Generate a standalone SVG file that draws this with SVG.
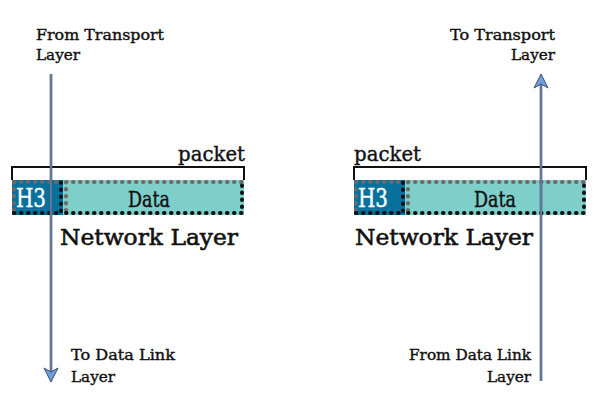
<svg xmlns="http://www.w3.org/2000/svg" width="600" height="400" viewBox="0 0 600 400">
<style>
text{font-family:"DejaVu Serif","Liberation Serif",serif;fill:#111;stroke:#111;stroke-width:0.4}
.lbl{font-size:15px}
.pk{font-size:20px}
.nl{font-size:23px;stroke-width:0.6}
.dt{font-size:22px}
.h3{font-size:26px;fill:#fff;stroke:#fff;stroke-width:0.4;font-family:"DejaVu Serif Condensed","DejaVu Serif",serif}
.br{fill:none;stroke:#111;stroke-width:2}
.hb{fill:#07719e}
.db{fill:#7ececa}
.dg{fill:none;stroke:#6a6a6a;stroke-width:4;stroke-linecap:round;stroke-dasharray:0.5 6.5}
.dk{fill:none;stroke:#111;stroke-width:4;stroke-linecap:round;stroke-dasharray:0.5 6.5}
.ao{stroke:#3a4f6e;stroke-width:2.6;fill:none}
.ai{stroke:#9fb8da;stroke-width:0.8;fill:none}
.ah{fill:#6f9fd6;stroke:#3a4f6e;stroke-width:1}
</style>
<g id="left-packet">
<path class="br" d="M12,180 V167 H244 V180"/>
<text class="pk" x="245" y="161" text-anchor="end" textLength="67" lengthAdjust="spacingAndGlyphs">packet</text>
<rect class="hb" x="12" y="180" width="51" height="35"/>
<rect class="db" x="63" y="180" width="181" height="35"/>
<path class="dg" d="M14,182 H61 M14,182 V213 M66,182 H242 M66,182 V213"/>
<path class="dk" d="M14,213 H61 V182 M66,213 H242 V182"/>
<text class="h3" x="16" y="207" textLength="30" lengthAdjust="spacingAndGlyphs">H3</text>
<text class="dt" x="128" y="207" textLength="42" lengthAdjust="spacingAndGlyphs">Data</text>
<text class="nl" x="60" y="245" textLength="178" lengthAdjust="spacingAndGlyphs">Network Layer</text>
</g>
<g id="right-packet">
<path class="br" d="M354,180 V167 H586 V180"/>
<text class="pk" x="354" y="161" textLength="67" lengthAdjust="spacingAndGlyphs">packet</text>
<rect class="hb" x="354" y="180" width="51" height="35"/>
<rect class="db" x="405" y="180" width="181" height="35"/>
<path class="dg" d="M356,182 H403 M356,182 V213 M408,182 H584 M408,182 V213"/>
<path class="dk" d="M356,213 H403 V182 M408,213 H584 V182"/>
<text class="h3" x="358" y="207" textLength="30" lengthAdjust="spacingAndGlyphs">H3</text>
<text class="dt" x="474" y="207" textLength="42" lengthAdjust="spacingAndGlyphs">Data</text>
<text class="nl" x="355" y="245" textLength="178" lengthAdjust="spacingAndGlyphs">Network Layer</text>
</g>
<g id="labels">
<text class="lbl" x="36" y="40" textLength="128" lengthAdjust="spacingAndGlyphs">From Transport</text>
<text class="lbl" x="36" y="60" textLength="44" lengthAdjust="spacingAndGlyphs">Layer</text>
<text class="lbl" x="71" y="360" textLength="104" lengthAdjust="spacingAndGlyphs">To Data Link</text>
<text class="lbl" x="71" y="382" textLength="44" lengthAdjust="spacingAndGlyphs">Layer</text>
<text class="lbl" x="555" y="40" text-anchor="end" textLength="105" lengthAdjust="spacingAndGlyphs">To Transport</text>
<text class="lbl" x="555" y="60" text-anchor="end" textLength="44" lengthAdjust="spacingAndGlyphs">Layer</text>
<text class="lbl" x="531" y="360" text-anchor="end" textLength="122" lengthAdjust="spacingAndGlyphs">From Data Link</text>
<text class="lbl" x="531" y="382" text-anchor="end" textLength="44" lengthAdjust="spacingAndGlyphs">Layer</text>
</g>
<g id="connectors">
<line class="ao" x1="51" y1="74" x2="51" y2="372"/>
<line class="ai" x1="51" y1="74" x2="51" y2="372"/>
<path class="ah" d="M44,368 L51,382 L58,368 L51,372 Z"/>
<line class="ao" x1="541" y1="381" x2="541" y2="84"/>
<line class="ai" x1="541" y1="381" x2="541" y2="84"/>
<path class="ah" d="M534,88 L541,74 L548,88 L541,84 Z"/>
</g>
</svg>
